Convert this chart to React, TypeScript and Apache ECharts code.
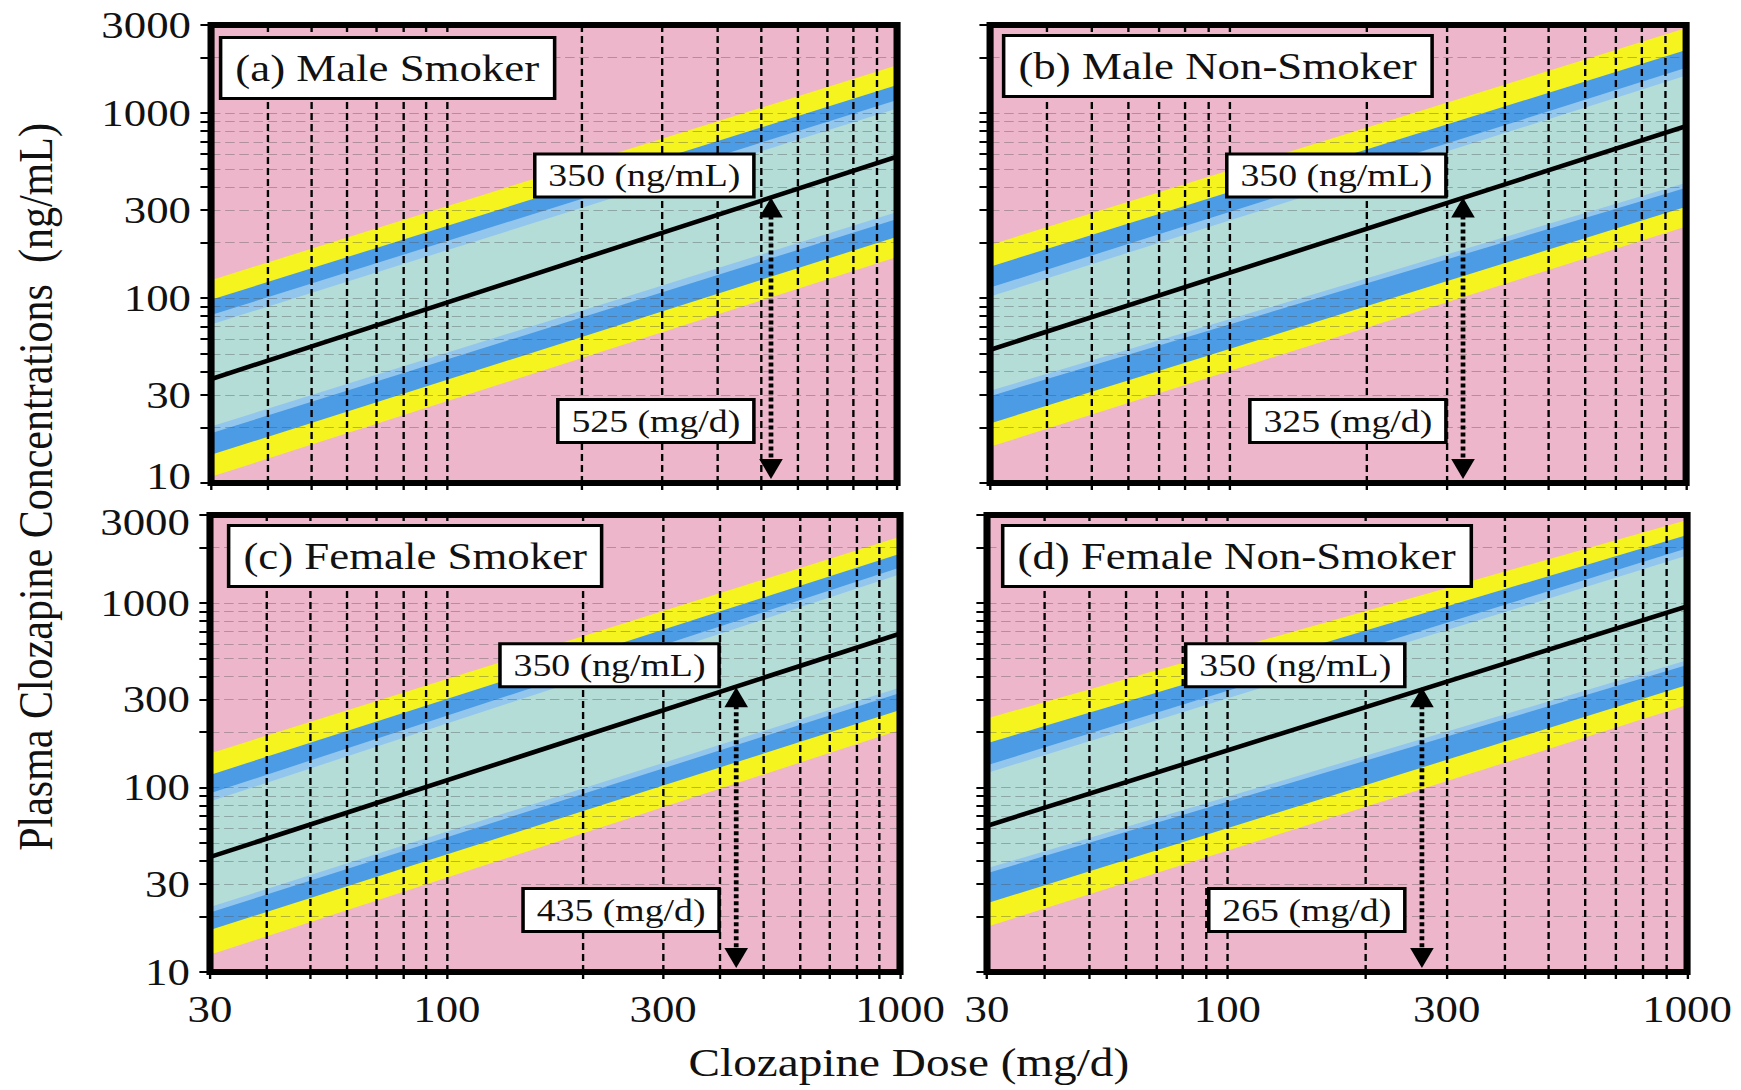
import React, { useEffect, useRef } from 'react';
import * as echarts from 'echarts';

// The figure is laid out on a 1475px-wide canvas and widened to 1741px,
// which gives the wide serif lettering of the original plate.
const CHART_W = 1475;
const CHART_H = 1090;
const STRETCH = 1741 / CHART_W;
const FONT = '"Liberation Serif", "Times New Roman", serif';

const panelTitles = ['(a) Male Smoker', '(b) Male Non-Smoker', '(c) Female Smoker', '(d) Female Non-Smoker'];

// dose axis (mg/d)
const doseEnds = [30, 1000];
const doseTickLabels = [30, 100, 300, 1000];
const doseGridValues = [40, 50, 60, 70, 80, 90, 100, 200, 300, 400, 500, 600, 700, 800, 900];

// concentration axis (ng/mL)
const concRange = [10, 3000];
const concTickLabels = [10, 30, 100, 300, 1000, 3000];
const concGridValues = [20, 30, 40, 50, 60, 70, 80, 90, 100, 200, 300, 400, 500, 600, 700, 800, 900, 1000, 2000];

// therapeutic target and the dose that reaches it in each group
const targetConc = 350;
const targetDoses = [525, 325, 435, 265];

// predicted median concentration at 30 and 1000 mg/d
const medianLine = [[36.5, 582], [52.5, 852], [42, 683], [62, 960]];

// prediction-band edges, each pair is [value at 30 mg/d, value at 1000 mg/d]
const upperYellowEdge = [[125, 1820], [194, 2890], [153, 2290], [237, 2820]];
const upperBlueEdge = [[98, 1422], [148, 2200], [117, 1850], [174, 2340]];
const upperLightEdge = [[81, 1180], [114, 1760], [93, 1560], [132, 1980]];
const upperTealEdge = [[72, 1060], [102, 1600], [84, 1430], [120, 1810]];
const lowerLightEdge = [[20.2, 292], [31.5, 420], [22.5, 348], [36.5, 490]];
const lowerBlueEdge = [[18.6, 268], [29.5, 395], [21, 325], [34.3, 461]];
const lowerYellowEdge = [[14.2, 215], [21, 312], [16.9, 263], [23.6, 360]];
const lowerPinkEdge = [[10.8, 167], [15.7, 244], [12.4, 205], [17.6, 280]];

const PINK = '#EDB6CA';
const YELLOW = '#F6F41E';
const BLUE = '#4C9BE5';
const LIGHT_BLUE = '#93C6EC';
const TEAL = '#B4DDD8';

// painted top-down: each layer fills from its upper edge to the bottom of the plot
const layerEdges = [upperYellowEdge, upperBlueEdge, upperLightEdge, upperTealEdge, lowerLightEdge, lowerBlueEdge, lowerYellowEdge, lowerPinkEdge];
const layerColors = [YELLOW, BLUE, LIGHT_BLUE, TEAL, LIGHT_BLUE, BLUE, YELLOW, PINK];

const grids = [
  { left: 178.8, top: 25, width: 581.2, height: 458 },
  { left: 838.8, top: 25, width: 589.7, height: 458 },
  { left: 177.9, top: 515, width: 584.6, height: 457 },
  { left: 836.2, top: 515, width: 593.1, height: 457 },
];
const titlePos = [
  { left: 186.4, top: 37 },
  { left: 849.8, top: 35 },
  { left: 193.2, top: 525 },
  { left: 849.0, top: 525 },
];

const labelText = (v: number) => String(Math.round(v));

// The bottom label of the upper panel and the top label of the lower panel
// sit close together; nudge them apart a little.
function concLabel(k: number) {
  return (v: number) => {
    const t = labelText(v);
    if (k < 2 && v <= concRange[0]) return `{lo|${t}}`;
    if (k >= 2 && v >= concRange[1]) return `{hi|${t}}`;
    return t;
  };
}

const yLabelFont = { fontFamily: FONT, fontSize: 38, color: '#111', lineHeight: 28 };

function buildOption() {
  const xAxis = grids.map((_, k) => ({
    type: 'log',
    logBase: 10,
    gridIndex: k,
    min: doseEnds[0],
    max: doseEnds[1],
    axisLine: { show: false },
    axisTick: {
      show: true,
      length: 7,
      customValues: [doseEnds[0], ...doseGridValues, doseEnds[1]],
      lineStyle: { color: '#000', width: 2 },
    },
    axisLabel: {
      show: k >= 2,
      customValues: doseTickLabels,
      formatter: labelText,
      fontFamily: FONT,
      fontSize: 38,
      lineHeight: 30,
      color: '#111',
      margin: 22,
    },
    splitLine: { show: false },
    minorTick: { show: false },
  }));

  const yAxis = grids.map((_, k) => ({
    type: 'log',
    logBase: 10,
    gridIndex: k,
    min: concRange[0],
    max: concRange[1],
    axisLine: { show: false },
    axisTick: {
      show: true,
      length: 9,
      customValues: [concRange[0], ...concGridValues, concRange[1]],
      lineStyle: { color: '#000', width: 2 },
    },
    axisLabel: {
      show: k % 2 === 0,
      customValues: concTickLabels,
      formatter: concLabel(k),
      ...yLabelFont,
      margin: 17,
      rich: {
        lo: { ...yLabelFont, padding: [0, 0, 14, 0] },
        hi: { ...yLabelFont, padding: [14, 0, 0, 0] },
      },
    },
    splitLine: { show: false },
    minorTick: { show: false },
  }));

  const series: any[] = [];
  grids.forEach((_, k) => {
    // coloured prediction bands
    series.push({
      type: 'custom',
      name: `bands-${k}`,
      xAxisIndex: k,
      yAxisIndex: k,
      z: 2,
      silent: true,
      clip: true,
      encode: { x: [0, 1], y: [2, 3] },
      data: layerEdges.map((edge, i) => [doseEnds[0], doseEnds[1], edge[k][0], edge[k][1], i]),
      renderItem: (params: any, api: any) => {
        const cs = params.coordSys;
        const bottom = cs.y + cs.height;
        const a = api.coord([api.value(0), api.value(2)]);
        const b = api.coord([api.value(1), api.value(3)]);
        return {
          type: 'polygon',
          shape: { points: [a, b, [b[0], bottom], [a[0], bottom]] },
          style: { fill: layerColors[api.value(4)] },
        };
      },
    });

    // median line with the dashed grid
    series.push({
      type: 'line',
      name: `median-${k}`,
      xAxisIndex: k,
      yAxisIndex: k,
      z: 6,
      silent: true,
      symbol: 'none',
      data: [
        [doseEnds[0], medianLine[k][0]],
        [doseEnds[1], medianLine[k][1]],
      ],
      lineStyle: { color: '#000', width: 4.5 },
      markLine: {
        silent: true,
        z: 5,
        symbol: ['none', 'none'],
        label: { show: false },
        emphasis: { disabled: true },
        data: [
          ...concGridValues.map((v) => ({
            yAxis: v,
            lineStyle: { color: 'rgba(80,80,80,0.38)', width: 1, type: [8, 4] },
          })),
          ...doseGridValues.map((v) => ({
            xAxis: v,
            lineStyle: { color: '#000', width: 2, type: [7, 4] },
          })),
        ],
      },
    });

    // target arrow and its two value boxes
    series.push({
      type: 'custom',
      name: `target-${k}`,
      xAxisIndex: k,
      yAxisIndex: k,
      z: 7,
      silent: true,
      clip: false,
      data: [[targetDoses[k], targetConc]],
      renderItem: (params: any, api: any) => {
        const cs = params.coordSys;
        const dose = api.value(0);
        const conc = api.value(1);
        const tip = api.coord([dose, conc]);
        const x = tip[0];
        const baseY = cs.y + cs.height - 4;
        const hw = 10;
        const hh = 20;
        const boxStyle = {
          font: `32px ${FONT}`,
          fill: '#111',
          backgroundColor: '#fff',
          borderColor: '#000',
          borderWidth: 3,
          padding: [3, 10],
          lineHeight: 34,
          align: 'right',
          verticalAlign: 'bottom',
        };
        return {
          type: 'group',
          children: [
            {
              type: 'line',
              shape: { x1: x, y1: tip[1] + hh - 2, x2: x, y2: baseY - hh + 2 },
              style: { stroke: '#000', lineWidth: 4, lineDash: [4, 3] },
            },
            {
              type: 'polygon',
              shape: { points: [[x, tip[1]], [x - hw, tip[1] + hh], [x + hw, tip[1] + hh]] },
              style: { fill: '#000' },
            },
            {
              type: 'polygon',
              shape: { points: [[x, baseY], [x - hw, baseY - hh], [x + hw, baseY - hh]] },
              style: { fill: '#000' },
            },
            {
              type: 'text',
              x: x - 16,
              y: tip[1] - 2,
              style: { ...boxStyle, text: `${conc} (ng/mL)` },
            },
            {
              type: 'text',
              x: x - 16,
              y: cs.y + cs.height - 42,
              style: { ...boxStyle, text: `${dose} (mg/d)` },
            },
          ],
        };
      },
    });

    // heavy plot frame
    series.push({
      type: 'custom',
      name: `frame-${k}`,
      xAxisIndex: k,
      yAxisIndex: k,
      z: 8,
      silent: true,
      clip: false,
      data: [[doseEnds[0], concRange[0]]],
      renderItem: (params: any) => {
        const cs = params.coordSys;
        return {
          type: 'rect',
          shape: { x: cs.x, y: cs.y, width: cs.width, height: cs.height },
          style: { fill: 'none', stroke: '#000', lineWidth: 6 },
        };
      },
    });
  });

  return {
    animation: false,
    backgroundColor: '#fff',
    textStyle: { fontFamily: FONT },
    grid: grids.map((g) => ({
      ...g,
      show: true,
      backgroundColor: PINK,
      borderWidth: 0,
      containLabel: false,
      outerBoundsMode: 'none',
    })),
    title: panelTitles.map((t, k) => ({
      text: t,
      ...titlePos[k],
      z: 10,
      backgroundColor: '#fff',
      borderColor: '#000',
      borderWidth: 3,
      padding: [11, 13],
      textStyle: { fontFamily: FONT, fontSize: 38, fontWeight: 'normal', color: '#111', lineHeight: 40 },
    })),
    xAxis,
    yAxis,
    series,
    graphic: [
      {
        type: 'text',
        x: 30,
        y: 487,
        rotation: Math.PI / 2,
        silent: true,
        style: {
          text: 'Plasma Clozapine Concentrations  (ng/mL)',
          font: `42px ${FONT}`,
          fill: '#111',
          align: 'center',
          verticalAlign: 'middle',
        },
      },
      {
        type: 'text',
        x: 770,
        y: 1062,
        silent: true,
        style: {
          text: 'Clozapine Dose (mg/d)',
          font: `40px ${FONT}`,
          fill: '#111',
          align: 'center',
          verticalAlign: 'middle',
        },
      },
    ],
  };
}

export default function App() {
  const ref = useRef<HTMLDivElement>(null);

  useEffect(() => {
    const el = ref.current;
    if (!el) return;
    const chart = echarts.init(el, null, { renderer: 'svg' });
    chart.setOption(buildOption() as any);
    return () => chart.dispose();
  }, []);

  return (
    <div
      style={{
        position: 'fixed',
        left: 0,
        top: 0,
        width: 1741,
        height: 1090,
        overflow: 'hidden',
        background: '#fff',
      }}
    >
      <div
        ref={ref}
        style={{
          width: CHART_W,
          height: CHART_H,
          transform: `scaleX(${STRETCH})`,
          transformOrigin: '0 0',
        }}
      />
    </div>
  );
}
